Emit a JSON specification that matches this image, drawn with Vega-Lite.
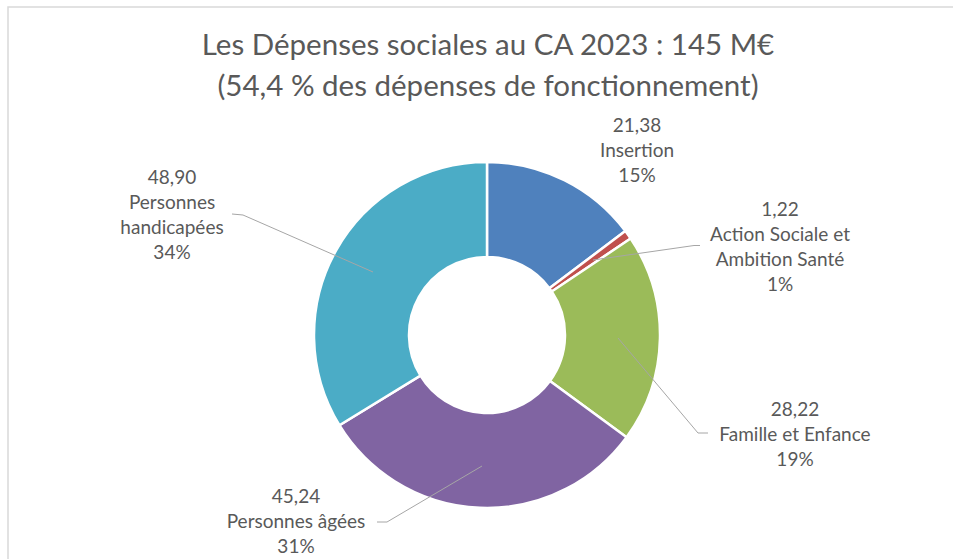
{
  "$schema": "https://vega.github.io/schema/vega-lite/v6.json",
  "width": 960,
  "height": 560,
  "autosize": {"type": "none"},
  "padding": {"left": 8, "top": 7, "right": 0, "bottom": 0},
  "background": "white",
  "config": {"view": {"stroke": "#d9d9d9", "strokeWidth": 1.5}},
  "title": {
    "text": ["Les Dépenses sociales au CA 2023 : 145 M€", "(54,4 % des dépenses de fonctionnement)"],
    "orient": "top",
    "anchor": "middle",
    "frame": "group",
    "offset": -124,
    "baseline": "bottom",
    "font": "Lato",
    "fontSize": 29.5,
    "fontWeight": "normal",
    "color": "#595959",
    "lineHeight": 41
  },
  "datasets": {
    "slices": [
      {"categorie": "Insertion", "montant": 21.38, "ordre": 1},
      {"categorie": "Action Sociale et Ambition Santé", "montant": 1.22, "ordre": 2},
      {"categorie": "Famille et Enfance", "montant": 28.22, "ordre": 3},
      {"categorie": "Personnes âgées", "montant": 45.24, "ordre": 4},
      {"categorie": "Personnes handicapées", "montant": 48.90, "ordre": 5}
    ],
    "labels": [
      {"categorie": "Insertion", "texte": "21,38\nInsertion\n15%", "lx": 150, "ly": 209},
      {"categorie": "Action Sociale et Ambition Santé", "texte": "1,22\nAction Sociale et\nAmbition Santé\n1%", "lx": 293, "ly": 125},
      {"categorie": "Famille et Enfance", "texte": "28,22\nFamille et Enfance\n19%", "lx": 308, "ly": -75},
      {"categorie": "Personnes âgées", "texte": "45,24\nPersonnes âgées\n31%", "lx": -191, "ly": -162},
      {"categorie": "Personnes handicapées", "texte": "48,90\nPersonnes\nhandicapées\n34%", "lx": -315, "ly": 157}
    ],
    "leaders": [
      {"categorie": "Action Sociale et Ambition Santé", "p": 1, "lx": 213, "ly": 89.5},
      {"categorie": "Action Sociale et Ambition Santé", "p": 2, "lx": 207, "ly": 89.5},
      {"categorie": "Action Sociale et Ambition Santé", "p": 3, "lx": 106, "ly": 75},
      {"categorie": "Famille et Enfance", "p": 1, "lx": 221, "ly": -98},
      {"categorie": "Famille et Enfance", "p": 2, "lx": 211, "ly": -98},
      {"categorie": "Famille et Enfance", "p": 3, "lx": 131, "ly": -3},
      {"categorie": "Personnes âgées", "p": 1, "lx": -110, "ly": -187},
      {"categorie": "Personnes âgées", "p": 2, "lx": -100, "ly": -187},
      {"categorie": "Personnes âgées", "p": 3, "lx": -5, "ly": -131},
      {"categorie": "Personnes handicapées", "p": 1, "lx": -255, "ly": 121},
      {"categorie": "Personnes handicapées", "p": 2, "lx": -244, "ly": 120},
      {"categorie": "Personnes handicapées", "p": 3, "lx": -114, "ly": 63}
    ]
  },
  "layer": [
    {
      "data": {"name": "slices"},
      "mark": {"type": "arc", "radius": 173, "radius2": 78, "stroke": "white", "strokeWidth": 2.5},
      "encoding": {
        "x": {"datum": 0, "type": "quantitative", "scale": {"domain": [-479, 481], "nice": false, "zero": false}, "axis": null},
        "y": {"datum": 0, "type": "quantitative", "scale": {"domain": [-232, 328], "nice": false, "zero": false}, "axis": null},
        "theta": {"field": "montant", "type": "quantitative", "stack": true},
        "order": {"field": "ordre", "type": "quantitative"},
        "color": {
          "field": "categorie",
          "type": "nominal",
          "scale": {
            "domain": ["Insertion", "Action Sociale et Ambition Santé", "Famille et Enfance", "Personnes âgées", "Personnes handicapées"],
            "range": ["#4f81bd", "#c0504d", "#9bbb59", "#8064a2", "#4bacc6"]
          },
          "legend": null
        }
      }
    },
    {
      "data": {"name": "leaders"},
      "mark": {"type": "line", "color": "#a6a6a6", "strokeWidth": 1},
      "encoding": {
        "x": {"field": "lx", "type": "quantitative"},
        "y": {"field": "ly", "type": "quantitative"},
        "detail": {"field": "categorie"},
        "order": {"field": "p", "type": "quantitative"}
      }
    },
    {
      "data": {"name": "labels"},
      "mark": {"type": "text", "font": "Lato", "fontSize": 19, "color": "#595959", "lineBreak": "\n", "lineHeight": 25, "align": "center", "baseline": "middle"},
      "encoding": {
        "x": {"field": "lx", "type": "quantitative"},
        "y": {"field": "ly", "type": "quantitative"},
        "text": {"field": "texte"}
      }
    }
  ]
}
